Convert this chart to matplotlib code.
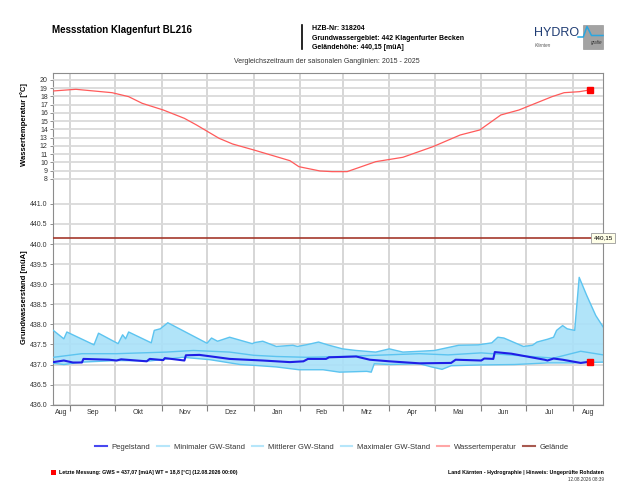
import numpy as np
import pandas as pd
import matplotlib
matplotlib.use("Agg")
import matplotlib.pyplot as plt
import matplotlib.dates as mdates
from matplotlib.patches import Rectangle
from matplotlib.lines import Line2D

plt.rcParams["font.family"] = ["Liberation Sans", "DejaVu Sans"]

# --- data ---
max_dates = ["2025-08-21", "2025-08-28", "2025-08-30", "2025-09-17", "2025-09-20", "2025-10-03",
             "2025-10-06", "2025-10-08", "2025-10-10", "2025-10-25", "2025-10-27", "2025-10-31",
             "2025-11-05", "2025-12-01", "2025-12-04", "2025-12-08", "2025-12-16", "2025-12-31",
             "2026-01-02", "2026-01-07", "2026-01-16", "2026-01-27", "2026-01-30", "2026-02-06",
             "2026-02-13", "2026-02-20", "2026-03-01", "2026-03-10", "2026-03-23", "2026-04-01",
             "2026-04-10", "2026-04-21", "2026-05-01", "2026-05-17", "2026-05-30", "2026-06-08",
             "2026-06-12", "2026-06-16", "2026-06-29", "2026-07-05", "2026-07-08", "2026-07-15",
             "2026-07-19", "2026-07-21", "2026-07-25", "2026-07-28", "2026-08-02", "2026-08-05",
             "2026-08-10", "2026-08-16", "2026-08-21"]
max_gw = [437.85, 437.64, 437.81, 437.49, 437.78, 437.52,
          437.74, 437.64, 437.81, 437.54, 437.85, 437.89,
          438.04, 437.53, 437.66, 437.58, 437.68, 437.52,
          437.55, 437.58, 437.45, 437.48, 437.45, 437.50,
          437.56, 437.48, 437.39, 437.35, 437.31, 437.39,
          437.31, 437.33, 437.35, 437.48, 437.49, 437.54,
          437.68, 437.66, 437.45, 437.48, 437.56, 437.63,
          437.68, 437.85, 437.97, 437.89, 437.85, 439.17,
          438.72, 438.22, 437.93]

mean_dates = ["2025-08-21", "2025-09-09", "2025-10-02", "2025-11-04", "2025-11-22", "2025-12-16",
              "2026-01-01", "2026-01-16", "2026-02-05", "2026-03-01", "2026-03-23", "2026-04-21",
              "2026-05-10", "2026-06-01", "2026-06-23", "2026-07-19", "2026-08-06", "2026-08-21"]
mean_gw = [437.18, 437.27, 437.27, 437.31, 437.35, 437.31,
           437.23, 437.20, 437.18, 437.20, 437.23, 437.27,
           437.24, 437.29, 437.23, 437.16, 437.33, 437.24]

min_dates = ["2025-08-21", "2025-08-28", "2025-09-01", "2025-09-09", "2025-10-02", "2025-10-24",
             "2025-11-15", "2025-12-03", "2025-12-23", "2026-01-01", "2026-01-16", "2026-01-31",
             "2026-02-16", "2026-02-27", "2026-03-17", "2026-03-20", "2026-03-22", "2026-04-01",
             "2026-04-21", "2026-04-29", "2026-05-06", "2026-05-12", "2026-06-01", "2026-06-23",
             "2026-07-15", "2026-07-31", "2026-08-21"]
min_gw = [437.03, 437.00, 437.02, 437.06, 437.10, 437.09,
          437.18, 437.12, 437.00, 436.98, 436.94, 436.87,
          436.87, 436.81, 436.83, 436.81, 437.02, 437.00,
          437.02, 436.94, 436.88, 436.97, 436.99, 437.00,
          437.04, 437.04, 437.06]

pegel_dates = ["2025-08-21", "2025-08-28", "2025-09-03", "2025-09-09", "2025-09-10", "2025-09-27",
               "2025-10-02", "2025-10-05", "2025-10-22", "2025-10-24", "2025-11-02", "2025-11-03",
               "2025-11-16", "2025-11-17", "2025-11-26", "2025-12-16", "2026-01-07", "2026-01-25",
               "2026-02-03", "2026-02-06", "2026-02-18", "2026-02-20", "2026-03-10", "2026-03-19",
               "2026-04-01", "2026-04-21", "2026-05-12", "2026-05-15", "2026-06-01", "2026-06-03",
               "2026-06-09", "2026-06-10", "2026-06-21", "2026-07-13", "2026-07-15", "2026-07-19",
               "2026-07-25", "2026-08-06", "2026-08-12"]
pegel = [437.06, 437.10, 437.05, 437.05, 437.14, 437.12,
         437.10, 437.13, 437.08, 437.14, 437.11, 437.16,
         437.10, 437.23, 437.24, 437.14, 437.10, 437.06,
         437.08, 437.14, 437.14, 437.18, 437.20, 437.12,
         437.08, 437.03, 437.04, 437.12, 437.10, 437.15,
         437.14, 437.31, 437.27, 437.12, 437.10, 437.15,
         437.12, 437.04, 437.07]

temp_dates = ["2025-08-21", "2025-09-05", "2025-09-29", "2025-10-10", "2025-10-19", "2025-11-02",
              "2025-11-16", "2025-11-24", "2025-12-09", "2025-12-18", "2026-01-01", "2026-01-25",
              "2026-01-31", "2026-02-14", "2026-02-22", "2026-03-04", "2026-03-23", "2026-04-10",
              "2026-04-30", "2026-05-18", "2026-05-31", "2026-06-14", "2026-06-26", "2026-07-18",
              "2026-07-26", "2026-08-05", "2026-08-12"]
temp = [18.67, 18.87, 18.46, 17.98, 17.17, 16.36,
        15.35, 14.55, 12.93, 12.24, 11.52, 10.22,
        9.49, 8.97, 8.89, 8.89, 10.10, 10.63,
        11.92, 13.33, 13.94, 15.76, 16.36, 17.98,
        18.46, 18.58, 18.79]

gelaende = 440.15
last_date = "2026-08-12"
last_gws = 437.07
last_wt = 18.8

month_labels = ["Aug", "Sep", "Okt", "Nov", "Dez", "Jan", "Feb", "Mrz", "Apr", "Mai", "Jun", "Jul", "Aug"]
gw_ticks = np.arange(436.0, 441.01, 0.5)
temp_ticks = np.arange(8, 21, 1)

x_start = pd.Timestamp("2025-08-21")
x_end = pd.Timestamp("2026-08-21")

# --- colours ---
c_pegel = "#1f1fe6"
c_band_line = "#5cc4f0"
c_band_fill = "#a9e1f9"
c_temp = "#ff5a5a"
c_gel = "#a4382c"
c_grid = "#dadada"

W, H = 640, 491
fig = plt.figure(figsize=(W / 100, H / 100), dpi=100)
ax = fig.add_axes([53.3 / W, 1 - 404.7 / H, 550 / W, 331.4 / H])

# groundwater (lower part)
mx = pd.to_datetime(max_dates)
mn = pd.to_datetime(min_dates)
poly_x = np.concatenate([mx.values, mn.values[::-1]])
poly_y = np.concatenate([max_gw, min_gw[::-1]])
ax.fill(poly_x, poly_y, color=c_band_fill, alpha=0.9, lw=0, zorder=2)
ax.plot(mx, max_gw, color=c_band_line, lw=1.0, zorder=3)
ax.plot(mn, min_gw, color=c_band_line, lw=1.0, zorder=3)
ax.plot(pd.to_datetime(mean_dates), mean_gw, color=c_band_line, lw=1.0, zorder=3)
ax.plot(pd.to_datetime(pegel_dates), pegel, color=c_pegel, lw=1.5, zorder=4)
ax.plot(pd.Timestamp(last_date), last_gws, "s", color="#ff0000", ms=4.5, zorder=6)
ax.axhline(gelaende, color=c_gel, lw=1.2, zorder=4)
ax.text(1.0, gelaende, "440,15", transform=ax.get_yaxis_transform(), ha="center", va="center",
        fontsize=4.5, clip_on=False, zorder=10,
        bbox=dict(boxstyle="square,pad=0.35", fc="#ffffe8", ec="#9a9a9a", lw=0.6))

ax.set_ylim(436.0, 444.25)
ax.set_yticks(gw_ticks)
ax.set_yticklabels([f"{v:.1f}" for v in gw_ticks])
ax.set_xlim(x_start, x_end)

# month boundaries and centred month names
ax.xaxis.set_major_locator(mdates.MonthLocator())
ax.xaxis.set_major_formatter(plt.NullFormatter())
bounds = [x_start] + list(pd.date_range("2025-09-01", "2026-08-01", freq="MS")) + [x_end]
mids = [b0 + (b1 - b0) / 2 for b0, b1 in zip(bounds[:-1], bounds[1:])]
ax.set_xticks(mids, minor=True)
ax.set_xticklabels(month_labels, minor=True)
ax.tick_params(axis="x", which="major", length=4, color="#808080", width=0.8)
ax.tick_params(axis="x", which="minor", length=0, pad=3, labelsize=5, labelcolor="#333333")
ax.tick_params(axis="y", length=2.5, color="#808080", width=0.6, labelsize=5, pad=1.5,
               labelcolor="#333333")
ax.grid(axis="x", which="major", color="#d0d0d0", lw=1.2, zorder=0)
ax.grid(axis="y", color=c_grid, lw=1.3, zorder=0)
ax.set_axisbelow(True)
for s in ax.spines.values():
    s.set_color("#8c8c8c")
    s.set_linewidth(0.8)
ax.set_ylabel("Grundwasserstand [müA]", fontsize=5.5, fontweight="bold")
ax.yaxis.set_label_coords(-0.046, 0.325)

# water temperature (upper part)
tax = ax.twinx()
tax.plot(pd.to_datetime(temp_dates), temp, color=c_temp, lw=0.9, zorder=3)
tax.plot(pd.Timestamp(last_date), last_wt, "s", color="#ff0000", ms=4.5, zorder=6)
tax.set_ylim(-19.36, 20.81)
tax.set_yticks(temp_ticks)
tax.yaxis.tick_left()
tax.yaxis.set_label_position("left")
tax.tick_params(axis="y", length=2.5, color="#808080", width=0.6, labelsize=5, pad=1.5,
                labelcolor="#333333")
tax.grid(axis="y", color=c_grid, lw=1.3, zorder=0)
for s in tax.spines.values():
    s.set_visible(False)
tax.set_ylabel("Wassertemperatur [°C]", fontsize=5.5, fontweight="bold")
tax.yaxis.set_label_coords(-0.046, 0.844)


def fx(px):
    return px / W


def fy(py):
    return 1 - py / H


# header
fig.text(fx(52), fy(30), "Messstation Klagenfurt BL216", fontsize=7, fontweight="bold", va="center")
fig.add_artist(Line2D([fx(301.7), fx(301.7)], [fy(25), fy(49)], color="black", lw=1.2))
for py, line in zip([28.3, 38.3, 47.3], ["HZB-Nr: 318204", "Grundwassergebiet: 442 Klagenfurter Becken",
                                         "Geländehöhe: 440,15 [müA]"]):
    fig.text(fx(311.5), fy(py), line, fontsize=5, fontweight="bold", va="center")
fig.text(fx(327), fy(61.7), "Vergleichszeitraum der saisonalen Ganglinien: 2015 - 2025",
         fontsize=5, ha="center", va="center", color="#333333")

# logo
fig.text(fx(534), fy(33.3), "HYDRO", fontsize=9, color="#1f3c73", va="center")
fig.text(fx(535), fy(45.5), "Kärnten", fontsize=3.3, style="italic", color="#555555", va="center")
fig.add_artist(Rectangle((fx(583.3), fy(49.3)), fx(19.4), 24.3 / H, transform=fig.transFigure,
                         fc="#a3a3a3", ec="#8a8a8a", lw=0.4))
fig.add_artist(Line2D([fx(578), fx(583.3), fx(587), fx(591.5), fx(603)],
                      [fy(37), fy(37), fy(26.5), fy(35.5), fy(35.5)], color="#2aa6e0", lw=1.1))
fig.text(fx(597), fy(42.5), "grafie", fontsize=3.3, style="italic", color="#333333",
         ha="center", va="center")

# legend
handles = [Line2D([], [], color="#4848f0", lw=1.5),
           Line2D([], [], color="#b6e6fa", lw=1.5),
           Line2D([], [], color="#b6e6fa", lw=1.5),
           Line2D([], [], color="#b6e6fa", lw=1.5),
           Line2D([], [], color="#ffa6a6", lw=1.5),
           Line2D([], [], color="#a85a50", lw=1.5)]
labels = ["Pegelstand", "Minimaler GW-Stand", "Mittlerer GW-Stand", "Maximaler GW-Stand",
          "Wassertemperatur", "Gelände"]
fig.legend(handles, labels, loc="center", bbox_to_anchor=(fx(332), fy(447.3)), ncol=6,
           frameon=False, fontsize=5.5, handlelength=1.5, handletextpad=0.65, columnspacing=0.9,
           labelcolor="#333333")

# footer
fig.add_artist(Rectangle((fx(51), fy(475)), fx(5), 5 / H, transform=fig.transFigure,
                         fc="#ff0000", ec="none"))
fig.text(fx(58.7), fy(472.7),
         "Letzte Messung: GWS = 437,07 [müA] WT = 18,8 [°C] (12.08.2026 00:00)",
         fontsize=3.8, fontweight="bold", va="center")
fig.text(fx(603.5), fy(472.7), "Land Kärnten - Hydrographie | Hinweis: Ungeprüfte Rohdaten",
         fontsize=3.8, fontweight="bold", ha="right", va="center")
fig.text(fx(603.5), fy(479.5), "12.08.2026 08:39", fontsize=3.3, ha="right", va="center",
         color="#333333")

fig.savefig("out.png", dpi=100)
